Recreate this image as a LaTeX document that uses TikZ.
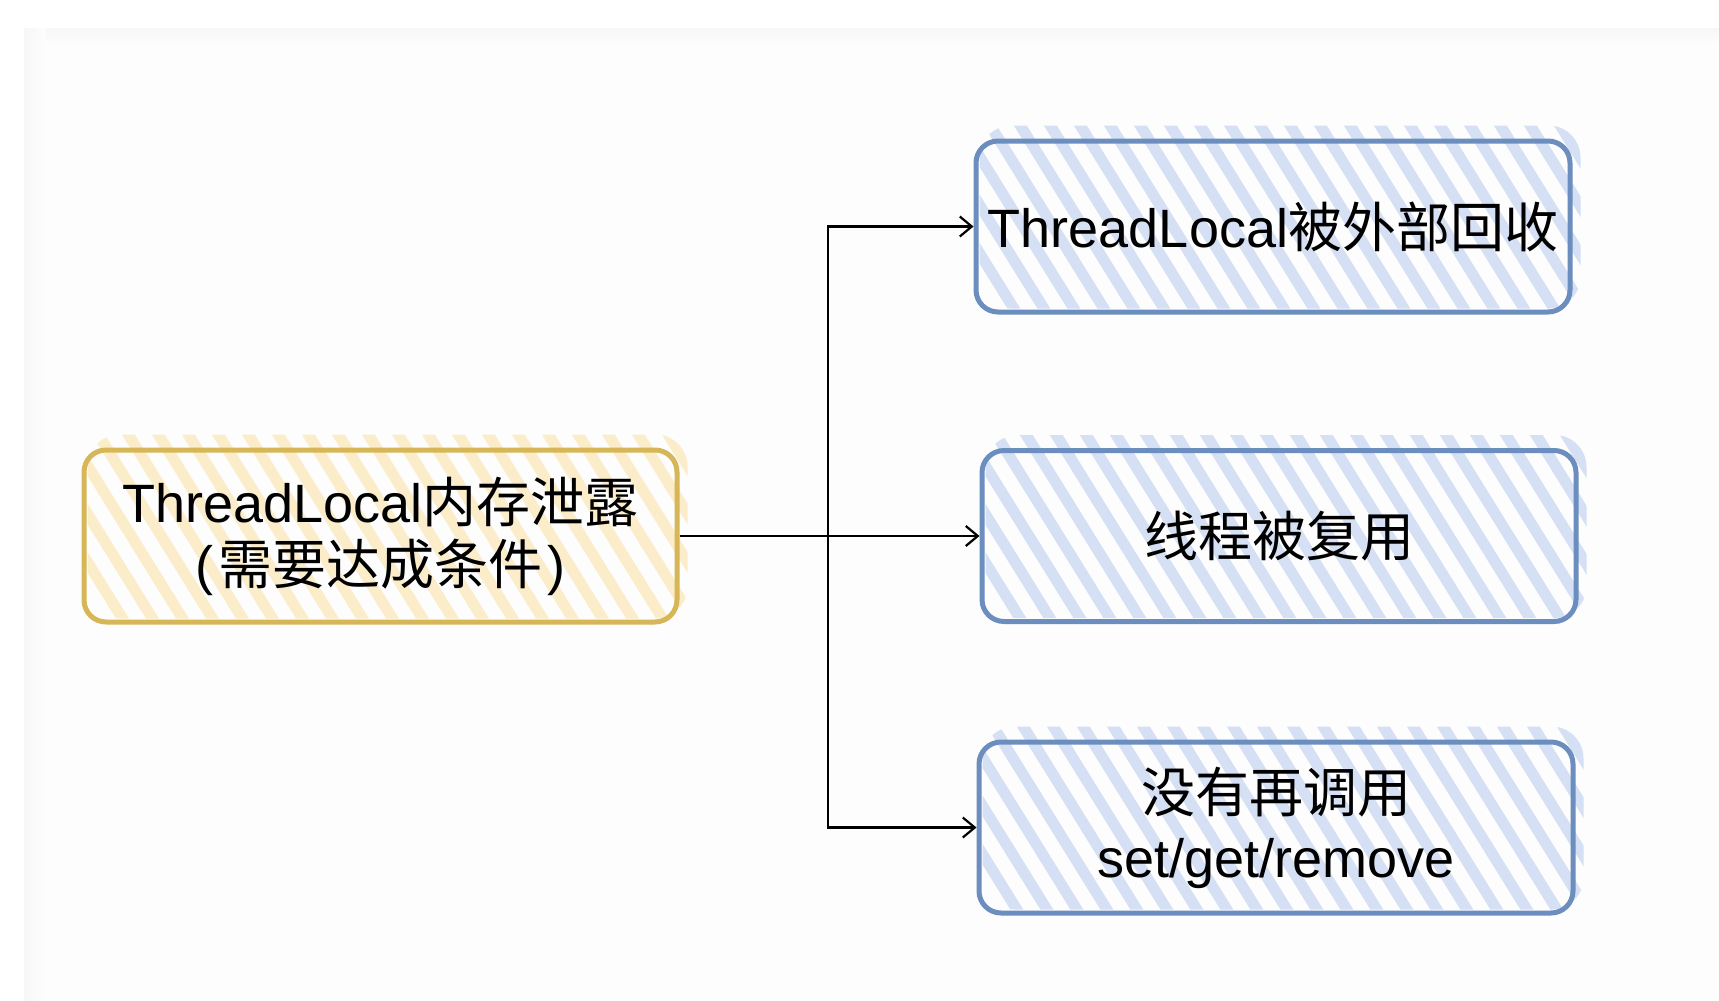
\documentclass[tikz,border=0pt]{standalone}
\usepackage{fontspec}
\setmainfont{Liberation Sans}
\newfontfamily\cjk{Noto Sans CJK SC}
\usetikzlibrary{calc,arrows.meta,backgrounds}
\definecolor{bluestroke}{HTML}{6C8EBF}
\definecolor{bluehatch}{HTML}{D6E0F4}
\definecolor{yelstroke}{HTML}{D6B656}
\definecolor{yelhatch}{HTML}{FBEDC9}
\definecolor{pagebg}{HTML}{FDFDFD}
\definecolor{pageshade}{HTML}{F7F7F7}
\newcommand\hatchbox[2]{%
  \begin{scope}
    \clip[rounded corners=16pt] ($(#1.north west)+(6,-13)$) rectangle ($(#1.south east)+(8,-6)$);
    \foreach \i in {-8,...,22}{\draw[#2, line width=5.5pt, line cap=round] ($(#1.north west)+(\i*30,-40)$) -- ++(180,290);}
  \end{scope}}
\begin{document}
\begin{tikzpicture}[x=0.5pt,y=-0.5pt,
  box/.style={draw, line width=2.5pt, rounded corners=11pt, inner sep=0pt, align=center,
    font=\fontsize{27pt}{31pt}\selectfont, text=black},
  bluebox/.style={box, draw=bluestroke, minimum width=297pt, minimum height=85.5pt},
  yelbox/.style={box, draw=yelstroke, minimum width=296.5pt, minimum height=86pt},
  arr/.style={-{Straight Barb[length=6pt,width=10pt,line width=1.1pt]}, line width=1.1pt, black}]
\useasboundingbox (0,0) rectangle (1719,1001);
\node[yelbox] (L) at (380.5,536) {ThreadLocal{\cjk 内存泄露}\\(\kern2.5pt{\cjk 需要达成条件}\kern2.5pt)};
\node[bluebox] (B1) at (1273,226.5) {ThreadLocal{\cjk 被外部回收}};
\node[bluebox] (B2) at (1279,536) {{\cjk 线程被复用}};
\node[bluebox] (B3) at (1276,827.5) {{\cjk 没有再调用}\\[1.5pt]set/get/remove};
\coordinate (J) at (828,536);
\draw[arr] (L.east) -- (B2.west);
\draw[arr] (J) |- (B1.west);
\draw[arr] (J) |- (B3.west);
\begin{pgfonlayer}{background}
  \fill[white] (0,0) rectangle (1719,1001);
  \fill[pagebg] (24,28) rectangle (1719,1001);
  \shade[left color=pageshade, right color=pagebg] (24,28) rectangle (46,1001);
  \shade[top color=pageshade, bottom color=pagebg] (46,28) rectangle (1719,44);
  \hatchbox{L}{yelhatch}
  \hatchbox{B1}{bluehatch}
  \hatchbox{B2}{bluehatch}
  \hatchbox{B3}{bluehatch}
\end{pgfonlayer}
\end{tikzpicture}
\end{document}
